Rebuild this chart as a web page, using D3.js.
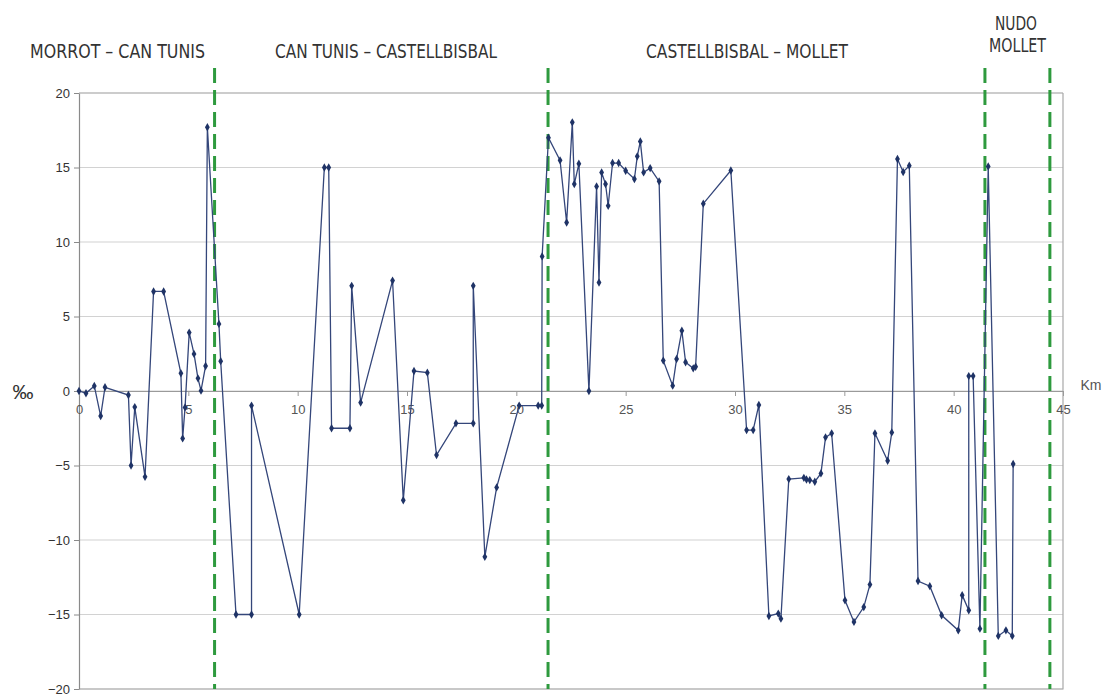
<!DOCTYPE html>
<html>
<head>
<meta charset="utf-8">
<script src="https://cdn.jsdelivr.net/npm/d3@7"></script>
<style>
  html, body { margin: 0; padding: 0; background: #fff; }
  svg { display: block; }
</style>
</head>
<body>
<svg id="chart" width="1120" height="697"></svg>
<script>
// Longitudinal grade profile (‰) along the route, by kilometre point
const km = [
  0, 0.32, 0.70, 0.99, 1.19, 2.26, 2.38, 2.55, 3.02, 3.41, 3.87, 4.66, 4.74, 4.85, 5.04,
  5.26, 5.44, 5.58, 5.79, 5.87, 6.40, 6.48, 7.18, 7.89, 7.89, 10.07, 11.22, 11.42, 11.55,
  12.39, 12.47, 12.88, 14.34, 14.83, 15.32, 15.93, 16.35, 17.24, 18.03, 18.03, 18.56,
  19.10, 20.13, 21.00, 21.16, 21.18, 21.47, 22.00, 22.30, 22.56, 22.65, 22.86, 23.32,
  23.67, 23.78, 23.90, 24.08, 24.20, 24.40, 24.68, 25.00, 25.40, 25.53, 25.67, 25.82,
  26.12, 26.53, 26.72, 27.15, 27.33, 27.57, 27.74, 28.09, 28.20, 28.55, 29.81, 30.53,
  30.83, 31.09, 31.55, 31.98, 32.10, 32.46, 33.15, 33.27, 33.42, 33.65, 33.93, 34.14,
  34.42, 35.03, 35.44, 35.89, 36.17, 36.40, 36.98, 37.17, 37.43, 37.69, 37.97, 38.37,
  38.91, 39.45, 40.21, 40.39, 40.69, 40.69, 40.89, 41.20, 41.58, 42.04, 42.39, 42.68, 42.72
];
const grade = [
  0, -0.15, 0.34, -1.68, 0.25, -0.27, -5.0, -1.08, -5.76, 6.68, 6.68, 1.19, -3.18, -1.1, 3.92,
  2.49, 0.85, 0.02, 1.68, 17.7, 4.5, 2.0, -15.0, -15.0, -0.98, -15.0, 15.0, 15.0, -2.5,
  -2.5, 7.06, -0.78, 7.41, -7.33, 1.34, 1.23, -4.3, -2.17, -2.17, 7.06, -11.13,
  -6.47, -0.98, -0.98, -0.98, 9.03, 17.0, 15.48, 11.31, 18.03, 13.89, 15.25, 0.0,
  13.73, 7.28, 14.67, 13.89, 12.43, 15.3, 15.3, 14.78, 14.23, 15.75, 16.75, 14.67,
  14.96, 14.07, 2.04, 0.36, 2.15, 4.05, 1.93, 1.52, 1.63, 12.57, 14.8, -2.62,
  -2.62, -0.94, -15.1, -14.94, -15.28, -5.91, -5.83, -5.94, -5.98, -6.09, -5.53, -3.11,
  -2.84, -14.05, -15.5, -14.5, -12.99, -2.84, -4.68, -2.78, 15.57, 14.7, 15.12, -12.75,
  -13.1, -15.05, -16.06, -13.7, -14.72, 1.0, 1.0, -15.95, 15.07, -16.44, -16.06, -16.44, -4.9
];

// Section boundaries (km) and section names
const sectionBounds = [6.2, 21.45, 41.43, 44.4];
const sectionNames = [
  ["MORROT – CAN TUNIS"],
  ["CAN TUNIS – CASTELLBISBAL"],
  ["CASTELLBISBAL – MOLLET"],
  ["NUDO", "MOLLET"]
];

const xTicks = [0, 5, 10, 15, 20, 25, 30, 35, 40, 45];
const yTicks = [-20, -15, -10, -5, 0, 5, 10, 15, 20];

const svg = d3.select("#chart");
const plotL = 79, plotR = 1063, plotT = 93, plotB = 689;

const x = d3.scaleLinear().domain([0, 45]).range([plotL, plotR]);
const y = d3.scaleLinear().domain([-20, 20]).range([plotB, plotT]);

// Horizontal gridlines
svg.append("g")
  .selectAll("line")
  .data(yTicks)
  .join("line")
  .attr("x1", plotL).attr("x2", plotR)
  .attr("y1", d => y(d)).attr("y2", d => y(d))
  .attr("stroke", d => d === 20 ? "#9a9a9a" : "#d2d2d2")
  .attr("stroke-width", 1.2);

// Plot frame (right and bottom)
svg.append("path")
  .attr("d", `M${plotR},${plotT}V${plotB}H${plotL}`)
  .attr("fill", "none")
  .attr("stroke", "#a8a8a8")
  .attr("stroke-width", 1.2);

// Y axis
const yAxis = svg.append("g")
  .attr("transform", `translate(${plotL},0)`)
  .call(d3.axisLeft(y).tickValues(yTicks).tickSize(5).tickSizeOuter(0));
yAxis.select(".domain").attr("stroke", "#8a8a8a").attr("stroke-width", 1.2);
yAxis.selectAll(".tick line").attr("stroke", "#8a8a8a");
yAxis.selectAll(".tick text")
  .attr("fill", "#333")
  .attr("x", -9)
  .style("font-family", "Liberation Sans, Arial, sans-serif")
  .style("font-size", "13px");

// X axis through zero
const xAxis = svg.append("g")
  .attr("transform", `translate(0,${y(0)})`)
  .call(d3.axisBottom(x).tickValues(xTicks).tickSize(5).tickSizeOuter(0));
xAxis.select(".domain").attr("stroke", "#9a9a9a").attr("stroke-width", 1.2);
xAxis.selectAll(".tick line").attr("stroke", "#9a9a9a");
xAxis.selectAll(".tick text")
  .attr("fill", "#555")
  .attr("y", 14)
  .style("font-family", "Liberation Sans, Arial, sans-serif")
  .style("font-size", "13px");

// Axis unit labels
svg.append("text")
  .attr("x", 23).attr("y", y(0) + 8)
  .attr("text-anchor", "middle")
  .attr("fill", "#333")
  .style("font-family", "Liberation Sans, Arial, sans-serif")
  .style("font-size", "21px")
  .text("‰");
svg.append("text")
  .attr("x", 1091).attr("y", y(0) - 1)
  .attr("text-anchor", "middle")
  .attr("fill", "#555")
  .style("font-family", "Liberation Sans, Arial, sans-serif")
  .style("font-size", "14px")
  .text("Km");

// Section boundaries
svg.append("g")
  .selectAll("line")
  .data(sectionBounds)
  .join("line")
  .attr("x1", d => x(d)).attr("x2", d => x(d))
  .attr("y1", 68).attr("y2", plotB)
  .attr("stroke", "#2e9a3e")
  .attr("stroke-width", 3)
  .attr("stroke-dasharray", "15,7");

// Section titles
const titleLayout = [
  [{ x: 30, y: 58, w: 175 }],
  [{ x: 275, y: 58, w: 222 }],
  [{ x: 646, y: 58, w: 202 }],
  [{ x: 995, y: 30, w: 42 }, { x: 989, y: 52, w: 57 }]
];
sectionNames.forEach((lines, i) => {
  lines.forEach((t, j) => {
    const p = titleLayout[i][j];
    svg.append("text")
      .attr("x", p.x).attr("y", p.y)
      .attr("textLength", p.w)
      .attr("lengthAdjust", "spacingAndGlyphs")
      .attr("fill", "#333")
      .style("font-family", "DejaVu Sans, sans-serif")
      .style("font-size", "20px")
      .text(t);
  });
});

// Grade profile line and markers
const pts = km.map((k, i) => [k, grade[i]]);
svg.append("path")
  .datum(pts)
  .attr("fill", "none")
  .attr("stroke", "#34467a")
  .attr("stroke-width", 1.3)
  .attr("d", d3.line().x(d => x(d[0])).y(d => y(d[1])));

const diamond = d3.symbol().type(d3.symbolDiamond).size(20);
svg.append("g")
  .selectAll("path")
  .data(pts)
  .join("path")
  .attr("transform", d => `translate(${x(d[0])},${y(d[1])})`)
  .attr("d", diamond)
  .attr("fill", "#1f3366");
</script>
</body>
</html>
